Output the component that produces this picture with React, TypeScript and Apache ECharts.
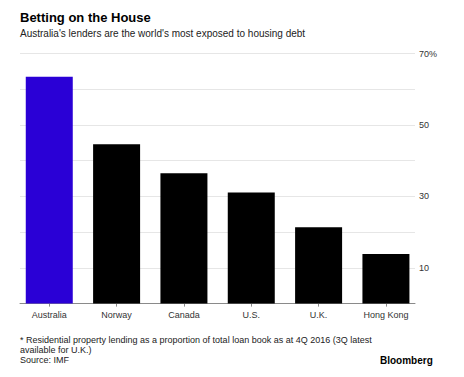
import React, { useEffect, useRef } from "react";
import * as echarts from "echarts";

const categories = ["Australia", "Norway", "Canada", "U.S.", "U.K.", "Hong Kong"];
const values = [63.5, 44.6, 36.5, 31.1, 21.4, 13.9];
const barColors = ["#2a00d6", "#000000", "#000000", "#000000", "#000000", "#000000"];
const yLabelValues = [10, 30, 50, 70];

const FONT = "'Liberation Sans', Arial, Helvetica, sans-serif";

export default function App() {
  const ref = useRef<HTMLDivElement>(null);
  useEffect(() => {
    if (!ref.current) return;
    const chart = echarts.init(ref.current, null, { renderer: "svg" });
    const top = 53.6;
    const bottom = 377 - 303.6;
    chart.setOption({
      animation: false,
      backgroundColor: "#ffffff",
      textStyle: { fontFamily: FONT },
      grid: [
        { left: 20, right: 49, top, bottom },
        { left: 15.6, width: 404, top, bottom },
      ],
      xAxis: [
        {
          gridIndex: 0,
          type: "category",
          data: categories,
          axisLine: { show: true, lineStyle: { color: "#8a8a8a", width: 1 } },
          axisTick: { show: false },
          axisLabel: { show: false },
          splitLine: { show: false },
        },
        {
          gridIndex: 1,
          type: "category",
          data: categories,
          axisLine: { show: false },
          axisTick: { show: true, alignWithLabel: true, length: 3, lineStyle: { color: "#8a8a8a" } },
          axisLabel: { show: true, margin: 7, fontSize: 9, color: "#333333", fontFamily: FONT },
          splitLine: { show: false },
        },
      ],
      yAxis: [
        {
          gridIndex: 0,
          type: "value",
          position: "right",
          min: 0,
          max: 70,
          interval: 10,
          axisLine: { show: false },
          axisTick: { show: false },
          splitLine: { show: true, lineStyle: { color: "#e6e6e6", width: 1 } },
          axisLabel: {
            margin: 4,
            fontSize: 9,
            color: "#333333",
            fontFamily: FONT,
            formatter: (v: number) =>
              yLabelValues.includes(v) ? (v === 70 ? "70%" : String(v)) : "",
          },
        },
        {
          gridIndex: 1,
          type: "value",
          min: 0,
          max: 70,
          show: false,
          splitLine: { show: false },
        },
      ],
      series: [
        {
          type: "bar",
          xAxisIndex: 1,
          yAxisIndex: 1,
          barWidth: 47,
          z: 3,
          data: values.map((v, i) => ({ value: v, itemStyle: { color: barColors[i] } })),
        },
      ],
      graphic: [
        {
          type: "text",
          left: 20,
          top: 11,
          style: { text: "Betting on the House", fontSize: 13, fontWeight: "bold", fill: "#000000", fontFamily: FONT },
        },
        {
          type: "text",
          left: 20,
          top: 28,
          style: {
            text: "Australia's lenders are the world's most exposed to housing debt",
            fontSize: 10,
            fill: "#222222",
            fontFamily: FONT,
          },
        },
        {
          type: "text",
          left: 20,
          top: 334.5,
          style: {
            text: "* Residential property lending as a proportion of total loan book as at 4Q 2016 (3Q latest\navailable for U.K.)\nSource: IMF",
            fontSize: 9,
            lineHeight: 10.3,
            fill: "#222222",
            fontFamily: FONT,
          },
        },
        {
          type: "text",
          left: 380,
          top: 355,
          style: { text: "Bloomberg", fontSize: 10, fontWeight: "bold", fill: "#000000", fontFamily: FONT },
        },
      ],
    });
    return () => chart.dispose();
  }, []);
  return (
    <div
      ref={ref}
      style={{ position: "absolute", left: 0, top: 0, width: 464, height: 377 }}
    />
  );
}
